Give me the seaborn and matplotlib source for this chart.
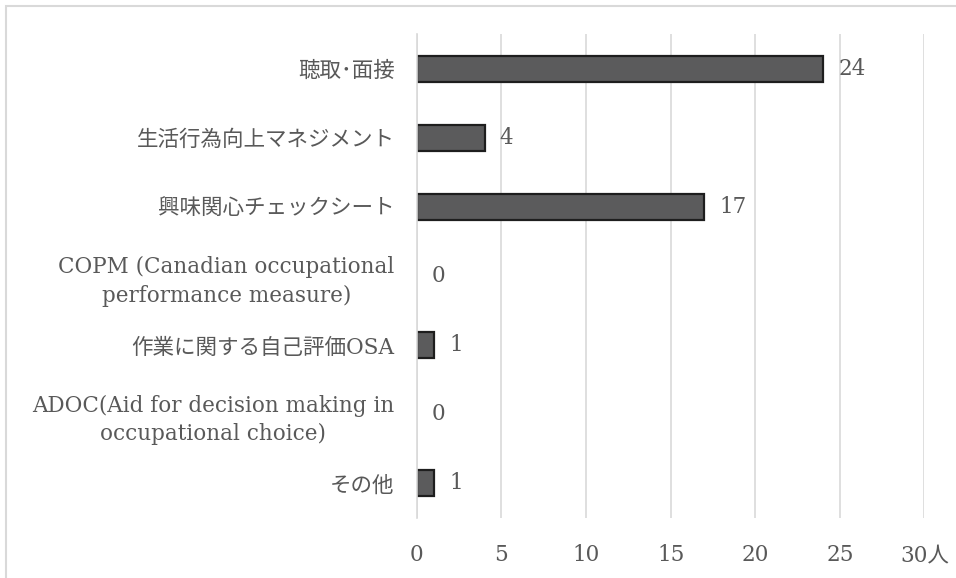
import matplotlib
matplotlib.use("Agg")
import matplotlib.pyplot as plt
import matplotlib.patches as mpatches
import pandas as pd
import seaborn as sns

# データ
categories = [
    "聴取･面接",
    "生活行為向上マネジメント",
    "興味関心チェックシート",
    "COPM (Canadian occupational\nperformance measure)",
    "作業に関する自己評価OSA",
    "ADOC(Aid for decision making in\noccupational choice)",
    "その他",
]
counts = [24, 4, 17, 0, 1, 0, 1]
x_ticks = [0, 5, 10, 15, 20, 25, 30]
x_tick_labels = ["0", "5", "10", "15", "20", "25", "30人"]

sns.set_style("white")
plt.rcParams["font.family"] = ["DejaVu Serif", "Noto Sans CJK JP"]

text_color = "#595959"
grid_color = "#d9d9d9"
fs = 15.5

df = pd.DataFrame({"項目": categories, "人数": counts})

fig = plt.figure(figsize=(9.56, 5.78), dpi=100)
ax = fig.add_axes([0.436, 0.104, 0.531, 0.837])

sns.barplot(data=df, x="人数", y="項目", orient="h", color="#5b5b5c",
            edgecolor="#1e1e1e", linewidth=1.6, width=0.38, saturation=1, ax=ax)

# 0件のバーは枠線も消す
for patch in ax.patches:
    if patch.get_width() == 0:
        patch.set_linewidth(0)

# 数値ラベル
ax.bar_label(ax.containers[0], fmt="%d", padding=11, fontsize=fs, color=text_color)

ax.set_xlim(0, 30)
ax.set_xticks(x_ticks)
ax.set_xticklabels(x_tick_labels)
ax.set_xlabel("")
ax.set_ylabel("")
ax.tick_params(axis="both", length=0, labelsize=fs, labelcolor=text_color)
ax.tick_params(axis="x", pad=19)
ax.tick_params(axis="y", pad=16)
for lbl in ax.get_yticklabels():
    lbl.set_multialignment("center")
    lbl.set_linespacing(1.35)

ax.xaxis.grid(True, color=grid_color, linewidth=1.2)
ax.set_axisbelow(True)
for side in ["top", "right", "bottom"]:
    ax.spines[side].set_visible(False)
ax.spines["left"].set_color(grid_color)
ax.spines["left"].set_linewidth(1.2)

# 外枠
border = mpatches.Rectangle((6 / 956, -0.1), 1.2, 1 - 6 / 578 + 0.1,
                            transform=fig.transFigure, fill=False,
                            edgecolor=grid_color, linewidth=1.5)
fig.patches.append(border)

fig.savefig("out.png", dpi=100, facecolor="white")
